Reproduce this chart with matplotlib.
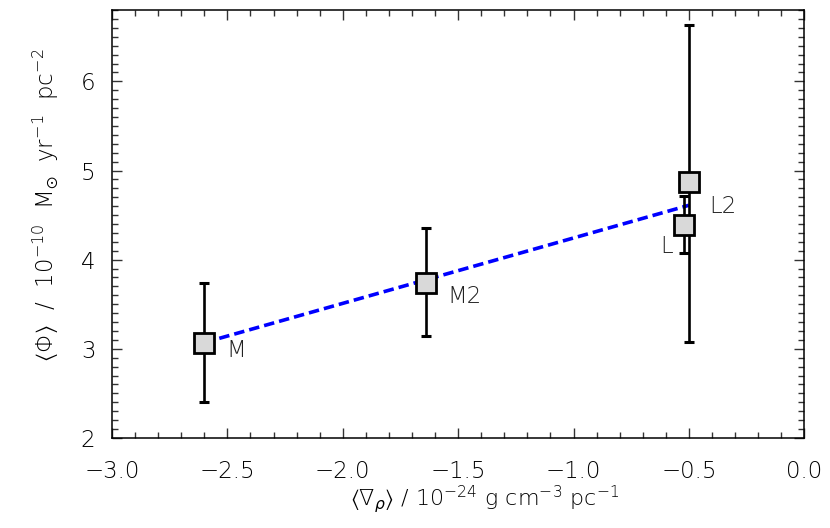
import numpy as np
import matplotlib
matplotlib.use('Agg')
import matplotlib.pyplot as plt
from matplotlib.ticker import MultipleLocator

# region labels and mean values
names = ['M', 'M2', 'L2', 'L']
grad_rho = [-2.60, -1.64, -0.50, -0.52]
phi = [3.07, 3.74, 4.87, 4.39]
phi_lo = [2.40, 3.14, 3.08, 4.07]
phi_hi = [3.74, 4.36, 6.63, 4.71]

# dashed relation through the points
fit_x = [-2.60, -0.50]
fit_y = [3.07, 4.61]

# label offsets in pixels (dx, dy) relative to marker centre
label_off = {'M': (22, -8), 'M2': (22, -14), 'L2': (20, -24), 'L': (-11, -22)}

plt.rcParams['font.family'] = 'DejaVu Sans'
plt.rcParams['font.weight'] = 'light'
plt.rcParams['axes.labelweight'] = 'light'
plt.rcParams['mathtext.fontset'] = 'custom'
plt.rcParams['mathtext.rm'] = 'DejaVu Sans:light'
plt.rcParams['mathtext.sf'] = 'DejaVu Sans:light'
plt.rcParams['mathtext.it'] = 'DejaVu Sans:italic'
plt.rcParams['mathtext.bf'] = 'DejaVu Sans:bold'
plt.rcParams['mathtext.fallback'] = 'stixsans'

fig = plt.figure(figsize=(8.3, 5.28), dpi=100)
ax = fig.add_axes([0.135, 0.1705, 0.834, 0.8105])

ax.plot(fit_x, fit_y, color='#0000ff', lw=2.6, dashes=(2.9, 1.4), zorder=2)

yerr = [np.array(phi) - np.array(phi_lo), np.array(phi_hi) - np.array(phi)]
ax.errorbar(grad_rho, phi, yerr=yerr, fmt='none', ecolor='black', elinewidth=1.9,
            capsize=3.5, capthick=2.2, zorder=3)
ax.plot(grad_rho, phi, 's', ms=15, mfc='#d9d9d9', mec='black', mew=2, ls='none', zorder=4)

for n, x, y in zip(names, grad_rho, phi):
    dx, dy = label_off[n]
    ax.annotate(n, (x, y), xytext=(dx, dy), textcoords='offset pixels',
                ha='left' if dx > 0 else 'right', va='center', fontsize=16.5, color='#222222')

ax.set_xlim(-3.0, 0.0)
ax.set_ylim(2.0, 6.8)
ax.xaxis.set_major_locator(MultipleLocator(0.5))
ax.xaxis.set_minor_locator(MultipleLocator(0.1))
ax.yaxis.set_major_locator(MultipleLocator(1))
ax.yaxis.set_minor_locator(MultipleLocator(0.1))
ax.xaxis.set_major_formatter(matplotlib.ticker.FuncFormatter(lambda v, p: f'{v:.1f}'.replace('-', '\u2212')))

ax.tick_params(which='both', direction='in', top=True, right=True, width=1, labelsize=16.5, color='#333333')
ax.tick_params(which='major', length=7)
ax.tick_params(which='minor', length=4)
ax.tick_params(axis='x', which='major', pad=16)
ax.tick_params(axis='y', which='major', pad=12)
for s in ax.spines.values():
    s.set_linewidth(1.1)

ax.set_xlabel(r'$\langle\nabla_{\rho}\rangle$ / 10$^{-24}$ g cm$^{-3}$ pc$^{-1}$', fontsize=16)
ax.set_ylabel(r'$\langle\Phi\rangle$  /  10$^{-10}$  M$_{\odot}$  yr$^{-1}$  pc$^{-2}$', fontsize=16.5)
ax.xaxis.set_label_coords(0.538, -0.105)
ax.yaxis.set_label_coords(-0.075, 0.545)

plt.savefig('out.png', dpi=100)
